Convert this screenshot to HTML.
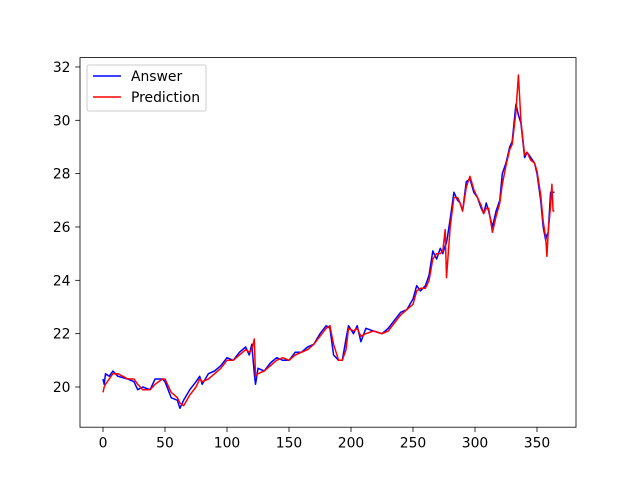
<!DOCTYPE html>
<html><head><meta charset="utf-8"><style>
body{margin:0;background:#fff}
svg{font-family:"DejaVu Sans","Liberation Sans",sans-serif}
</style></head><body>
<svg id="chart" width="640" height="480">
<rect x="0" y="0" width="640" height="480" fill="#fff"/>
<g id="plot"></g>
<rect x="80" y="57.6" width="496" height="369.6" fill="none" stroke="#000" stroke-width="0.8"/>
<g>
<rect x="87" y="65" width="119" height="46" rx="2" fill="#fff" fill-opacity="0.8" stroke="#ccc"/>
<line x1="93" y1="76" x2="121" y2="76" stroke="blue" stroke-width="1.5"/>
<text x="131" y="81" font-size="13.9">Answer</text>
<line x1="93" y1="97" x2="121" y2="97" stroke="red" stroke-width="1.5"/>
<text x="131" y="102" font-size="13.9">Prediction</text>
</g>
</svg>
<script>
const xIdx=[0,1,2,5,8,12,20,25,28,32,38,42,48,50,55,60,62,65,70,75,78,80,85,90,95,100,105,110,115,118,120,122,123,125,130,135,140,145,150,155,160,165,170,175,180,183,186,190,193,196,198,202,205,208,212,218,225,230,235,240,245,250,253,256,260,263,266,269,272,274,276,277,280,283,286,288,290,293,296,299,302,305,307,309,311,314,317,320,322,325,328,330,333,335,337,340,342,345,348,350,353,355,357,358,359,361,362,363,364];
const answer=[20.3,20.1,20.5,20.4,20.6,20.4,20.3,20.2,19.9,20.0,19.9,20.3,20.3,20.2,19.6,19.5,19.2,19.5,19.9,20.2,20.4,20.1,20.5,20.6,20.8,21.1,21.0,21.3,21.5,21.2,21.6,20.5,20.1,20.7,20.6,20.9,21.1,21.0,21.0,21.3,21.3,21.5,21.6,22.0,22.3,22.2,21.2,21.0,21.0,21.8,22.3,22.0,22.3,21.7,22.2,22.1,22.0,22.2,22.5,22.8,22.9,23.3,23.8,23.6,23.8,24.2,25.1,24.8,25.2,25.0,25.3,25.4,26.3,27.3,27.0,26.9,26.6,27.7,27.8,27.3,27.1,26.7,26.5,26.9,26.6,26.0,26.6,27.0,28.0,28.4,29.0,29.2,30.6,30.2,29.9,28.6,28.8,28.6,28.4,28.0,27.0,26.0,25.5,25.7,25.8,27.3,27.3,27.3,27.3];
const prediction=[19.8,20.0,20.1,20.3,20.5,20.5,20.3,20.3,20.1,19.9,19.9,20.1,20.3,20.3,19.8,19.6,19.4,19.3,19.7,20.0,20.3,20.2,20.3,20.5,20.7,21.0,21.0,21.2,21.4,21.3,21.4,21.8,20.4,20.5,20.6,20.8,21.0,21.1,21.0,21.2,21.3,21.4,21.6,21.9,22.2,22.3,21.6,21.0,21.0,21.4,22.2,22.1,22.2,21.9,22.0,22.1,22.0,22.1,22.4,22.7,22.9,23.1,23.6,23.7,23.7,24.0,24.8,25.0,25.0,25.1,25.9,24.1,26.0,27.1,27.1,26.9,26.6,27.5,27.9,27.4,27.1,26.8,26.5,26.7,26.7,25.8,26.4,26.9,27.6,28.3,28.9,29.1,30.3,31.7,30.0,28.7,28.8,28.5,28.4,28.1,27.2,26.2,25.6,24.9,25.8,26.8,27.6,26.6,26.6];
const xTicks=[0,50,100,150,200,250,300,350];
const yTicks=[20,22,24,26,28,30,32];
const X=v=>103+v*1.24;
const Y=v=>387-(v-20)*26.67;
const NS="http://www.w3.org/2000/svg";
const plot=document.getElementById('plot');
function mk(t,a){const e=document.createElementNS(NS,t);for(const k in a)e.setAttribute(k,a[k]);return e;}
xTicks.forEach(t=>{
  const g=mk('g',{});
  
  
  g.appendChild(mk('line',{x1:X(t),x2:X(t),y1:427.2,y2:432,stroke:'#000','stroke-width':0.8}));
  const tx=mk('text',{x:X(t),y:447.5,'font-size':13.9,'text-anchor':'middle'});tx.textContent=t;g.appendChild(tx);
  plot.appendChild(g);
});
yTicks.forEach(t=>{
  const g=mk('g',{});
  
  
  g.appendChild(mk('line',{x1:75.2,x2:80,y1:Y(t),y2:Y(t),stroke:'#000','stroke-width':0.8}));
  const tx=mk('text',{x:70.5,y:Y(t)+5,'font-size':13.9,'text-anchor':'end'});tx.textContent=t;g.appendChild(tx);
  plot.appendChild(g);
});
function line(vals,color,name){
  const d=vals.map((v,i)=>(i?'L':'M')+X(xIdx[i]).toFixed(1)+','+Y(v).toFixed(1)).join('');
  const p=mk('path',{d:d,fill:'none',stroke:color,'stroke-width':1.5,'stroke-linejoin':'round'});
  
  
  plot.appendChild(p);
}
line(answer,'blue','answer-line');
line(prediction,'red','prediction-line');
</script>
</body></html>
